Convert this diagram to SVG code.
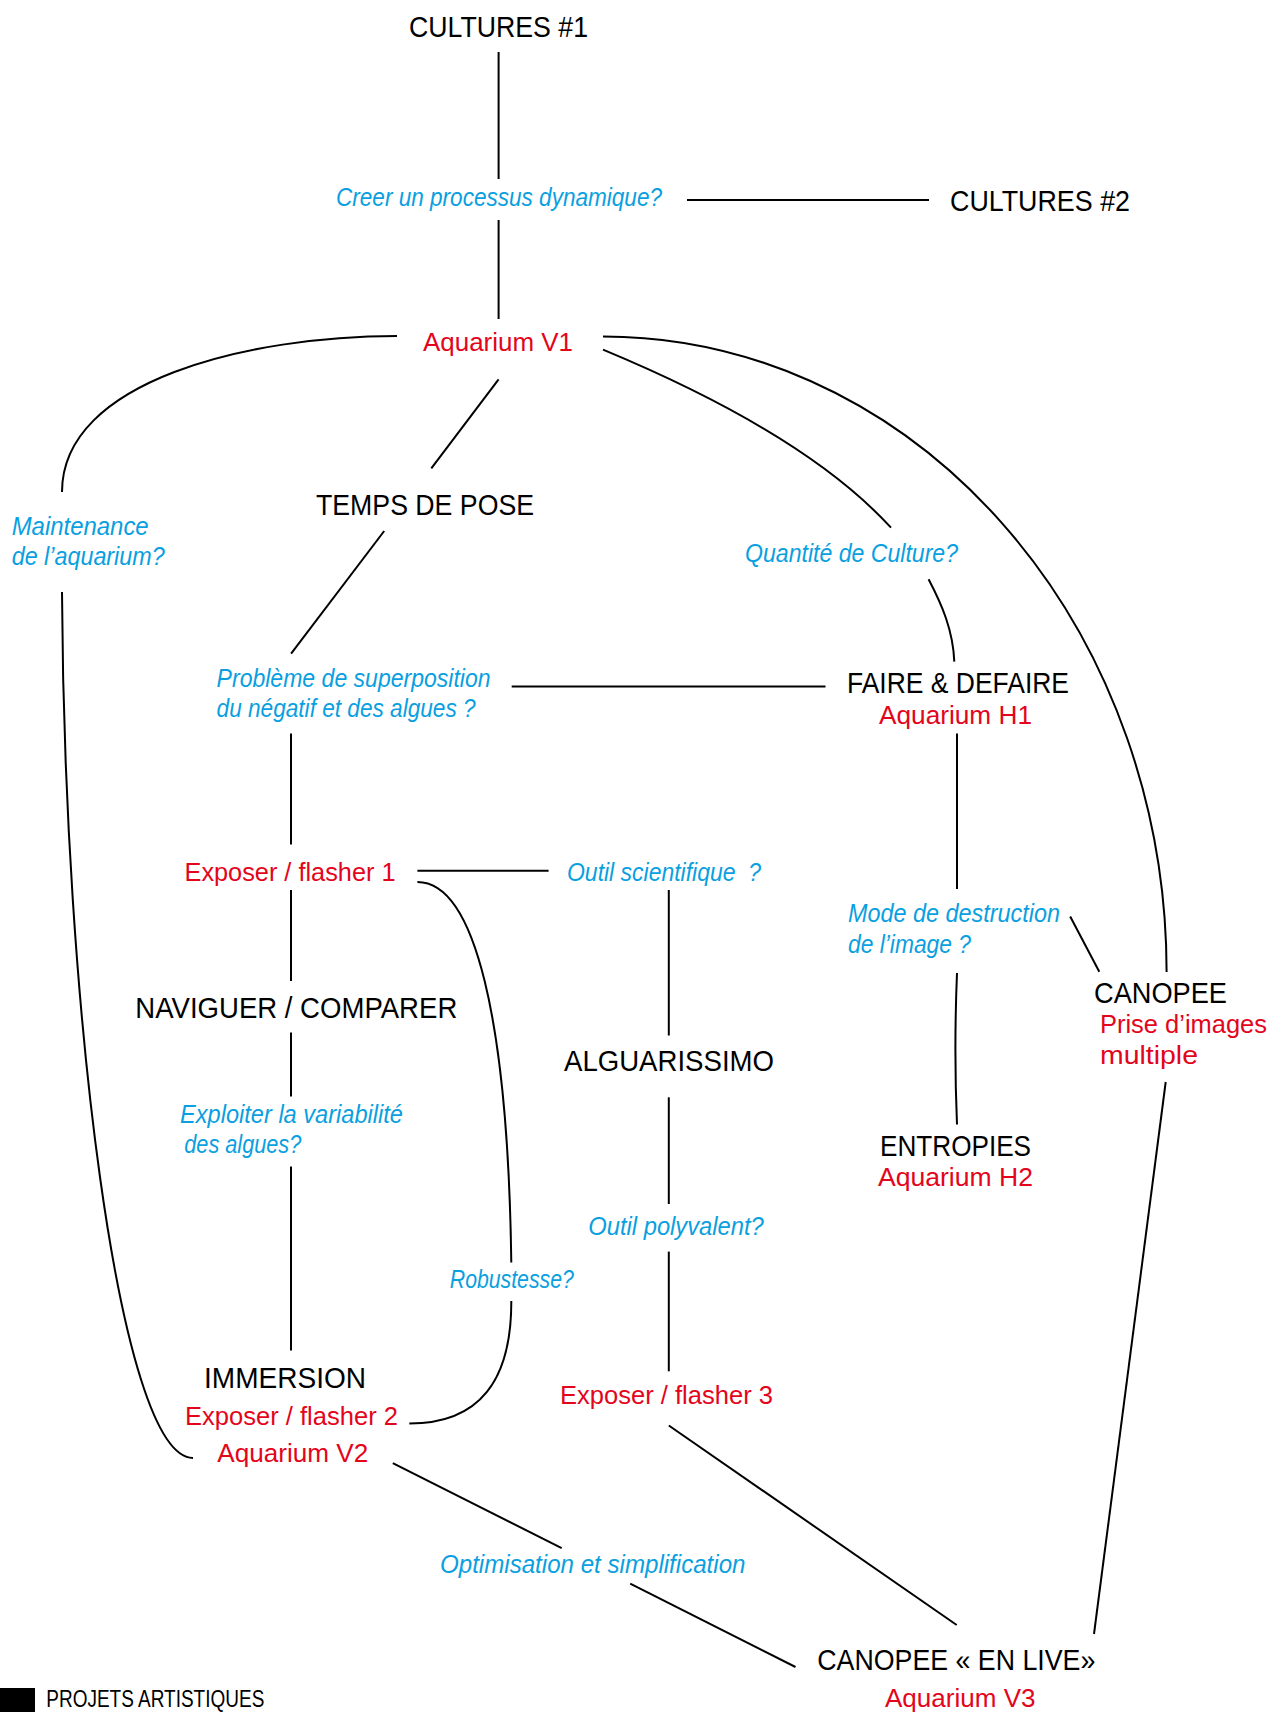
<svg xmlns="http://www.w3.org/2000/svg" width="1286" height="1714" viewBox="0 0 1286 1714">
<style>
text{font-family:"Liberation Sans Narrow","Liberation Sans",Arial,sans-serif;}
.k{font-size:30px;fill:#000;}
.r{font-size:26px;fill:#E3051B;}
.b{font-size:26px;fill:#0A9FE0;font-style:italic;}
.lg{font-size:23px;fill:#000;}
.conn path{fill:none;stroke:#000;stroke-width:2;}
</style>
<rect width="1286" height="1714" fill="#fff"/>
<g class="conn" id="connectors">
<path d="M498.6,52 V179"/>
<path d="M498.6,220 V319"/>
<path d="M687,200 H929"/>
<path d="M397,336 C250,336 62,380 62,492"/>
<path d="M62,592 C64,1000 118,1458 193,1458"/>
<path d="M498.6,379.3 L431.3,468.4"/>
<path d="M384.2,531 L291.1,653.6"/>
<path d="M291,733.6 V844.5"/>
<path d="M291,890 V981"/>
<path d="M291,1032.5 V1096.5"/>
<path d="M291,1166.4 V1350.5"/>
<path d="M511.7,686.4 H825.5"/>
<path d="M417.4,870.7 H548.6"/>
<path d="M417.4,882 C475,882 508,1020 511.3,1262.6"/>
<path d="M511.3,1301 C511.5,1380 480,1423.5 409.3,1423.5"/>
<path d="M603,349.7 C700,390 820,450 891,527.7"/>
<path d="M603,336.4 A563.6,635.6 0 0 1 1166.6,972"/>
<path d="M928.6,579.3 C942,605 953,630 954.3,661.6"/>
<path d="M957,733.6 V889"/>
<path d="M957,973 Q953.8,1050 957,1124.5"/>
<path d="M1070.2,916.5 L1099.3,971.8"/>
<path d="M1165.7,1082 L1094,1634"/>
<path d="M668.8,890 V1035.5"/>
<path d="M668.8,1097.3 V1204"/>
<path d="M668.8,1251.6 V1371.3"/>
<path d="M668.8,1425.5 L956.7,1625"/>
<path d="M392.8,1463.2 L561.7,1548.1"/>
<path d="M630.2,1583.6 L795.5,1667"/>
</g>
<g id="n-cultures1"><text class="k" x="409" y="37" textLength="179" lengthAdjust="spacingAndGlyphs">CULTURES #1</text></g>
<g id="q-creer"><text class="b" x="336" y="205.5" textLength="326" lengthAdjust="spacingAndGlyphs">Creer un processus dynamique?</text></g>
<g id="n-cultures2"><text class="k" x="950" y="211" textLength="180" lengthAdjust="spacingAndGlyphs">CULTURES #2</text></g>
<g id="n-aquarium-v1"><text class="r" x="423" y="351" textLength="150" lengthAdjust="spacingAndGlyphs">Aquarium V1</text></g>
<g id="q-maintenance">
<text class="b" x="11.7" y="535" textLength="137" lengthAdjust="spacingAndGlyphs">Maintenance</text>
<text class="b" x="11.7" y="565" textLength="153" lengthAdjust="spacingAndGlyphs">de l’aquarium?</text>
</g>
<g id="n-temps-de-pose"><text class="k" x="316" y="515" textLength="218" lengthAdjust="spacingAndGlyphs">TEMPS DE POSE</text></g>
<g id="q-quantite"><text class="b" x="745" y="562" textLength="213" lengthAdjust="spacingAndGlyphs">Quantité de Culture?</text></g>
<g id="q-probleme">
<text class="b" x="216.6" y="687" textLength="274" lengthAdjust="spacingAndGlyphs">Problème de superposition</text>
<text class="b" x="216.6" y="717.3" textLength="259" lengthAdjust="spacingAndGlyphs">du négatif et des algues ?</text>
</g>
<g id="n-faire-defaire">
<text class="k" x="847" y="693" textLength="222" lengthAdjust="spacingAndGlyphs">FAIRE &amp; DEFAIRE</text>
<text class="r" x="879" y="723.6" textLength="153" lengthAdjust="spacingAndGlyphs">Aquarium H1</text>
</g>
<g id="n-exposer1"><text class="r" x="184.5" y="881" textLength="211" lengthAdjust="spacingAndGlyphs">Exposer / flasher 1</text></g>
<g id="q-outil-scientifique"><text class="b" x="567" y="881" textLength="194" lengthAdjust="spacingAndGlyphs" xml:space="preserve">Outil scientifique  ?</text></g>
<g id="q-mode-destruction">
<text class="b" x="848" y="922" textLength="212" lengthAdjust="spacingAndGlyphs">Mode de destruction</text>
<text class="b" x="848" y="952.5" textLength="123" lengthAdjust="spacingAndGlyphs">de l’image ?</text>
</g>
<g id="n-naviguer"><text class="k" x="135.3" y="1018" textLength="322" lengthAdjust="spacingAndGlyphs">NAVIGUER / COMPARER</text></g>
<g id="n-alguarissimo"><text class="k" x="564" y="1071" textLength="210" lengthAdjust="spacingAndGlyphs">ALGUARISSIMO</text></g>
<g id="n-canopee">
<text class="k" x="1094" y="1002.5" textLength="133" lengthAdjust="spacingAndGlyphs">CANOPEE</text>
<text class="r" x="1100" y="1032.5" textLength="167" lengthAdjust="spacingAndGlyphs">Prise d’images</text>
<text class="r" x="1100" y="1064" textLength="98" lengthAdjust="spacingAndGlyphs">multiple</text>
</g>
<g id="q-exploiter">
<text class="b" x="180" y="1123.3" textLength="223" lengthAdjust="spacingAndGlyphs">Exploiter la variabilité</text>
<text class="b" x="184.3" y="1153.3" textLength="117" lengthAdjust="spacingAndGlyphs">des algues?</text>
</g>
<g id="n-entropies">
<text class="k" x="880" y="1156" textLength="151" lengthAdjust="spacingAndGlyphs">ENTROPIES</text>
<text class="r" x="878" y="1186" textLength="155" lengthAdjust="spacingAndGlyphs">Aquarium H2</text>
</g>
<g id="q-polyvalent"><text class="b" x="588.3" y="1235.2" textLength="175.5" lengthAdjust="spacingAndGlyphs">Outil polyvalent?</text></g>
<g id="q-robustesse"><text class="b" x="449.8" y="1288.2" textLength="124" lengthAdjust="spacingAndGlyphs">Robustesse?</text></g>
<g id="n-immersion">
<text class="k" x="204" y="1388" textLength="162" lengthAdjust="spacingAndGlyphs">IMMERSION</text>
<text class="r" x="185" y="1425" textLength="213" lengthAdjust="spacingAndGlyphs">Exposer / flasher 2</text>
<text class="r" x="217.3" y="1462" textLength="151" lengthAdjust="spacingAndGlyphs">Aquarium V2</text>
</g>
<g id="n-exposer3"><text class="r" x="560" y="1404.3" textLength="213" lengthAdjust="spacingAndGlyphs">Exposer / flasher 3</text></g>
<g id="q-optimisation"><text class="b" x="440" y="1572.6" textLength="305.5" lengthAdjust="spacingAndGlyphs">Optimisation et simplification</text></g>
<g id="n-canopee-live">
<text class="k" x="817.3" y="1670" textLength="278" lengthAdjust="spacingAndGlyphs">CANOPEE « EN LIVE»</text>
<text class="r" x="885" y="1706.6" textLength="150.5" lengthAdjust="spacingAndGlyphs">Aquarium V3</text>
</g>
<g id="legend">
<rect x="0" y="1688" width="35" height="24" fill="#000"/>
<text class="lg" x="46.3" y="1707" textLength="218" lengthAdjust="spacingAndGlyphs">PROJETS ARTISTIQUES</text>
</g>
</svg>
